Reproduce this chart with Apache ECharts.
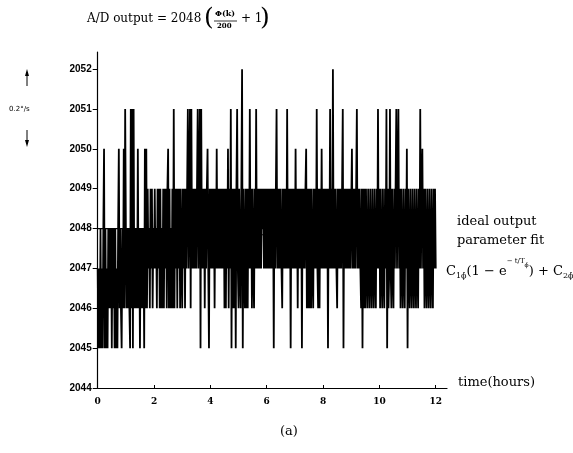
<!DOCTYPE html>
<html>
<head>
<meta charset="utf-8">
<script src="https://cdn.jsdelivr.net/npm/echarts@6/dist/echarts.min.js"></script>
<style>html,body{margin:0;padding:0;background:#fff;}#c{width:573px;height:453px;}</style>
</head>
<body>
<div id="c"></div>
<script>
// A/D output samples, 40 samples per hour (1.5 min spacing)
const hour0 = [2047,2045,2047,2045,2048,2045,2047,2045,2048,2050,2045,2048,2045,2047,2045,2048,2046,2048,2046,2048,2045,2048,2046,2048,2045,2048,2045,2047,2045,2048,2050,2046,2048,2046,2045,2048,2046,2050,2046,2051];
const hour1 = [2048,2046,2048,2046,2048,2046,2045,2051,2046,2051,2045,2051,2046,2048,2046,2048,2046,2050,2046,2048,2045,2048,2046,2048,2046,2048,2045,2050,2046,2050,2046,2049,2047,2048,2046,2049,2047,2049,2046,2048];
const hour2 = [2047,2049,2047,2048,2046,2049,2047,2049,2046,2049,2046,2048,2046,2049,2046,2049,2047,2049,2046,2049,2050,2046,2049,2046,2048,2046,2049,2046,2051,2046,2049,2047,2049,2046,2049,2047,2049,2046,2049,2047];
const hour3 = [2046,2049,2047,2049,2046,2049,2047,2049,2051,2047,2049,2051,2046,2051,2047,2049,2047,2049,2047,2049,2047,2049,2051,2047,2049,2051,2045,2051,2047,2049,2047,2049,2046,2049,2047,2049,2050,2047,2045,2049];
const hour4 = [2047,2049,2047,2049,2047,2049,2046,2049,2047,2050,2047,2049,2047,2049,2047,2049,2047,2049,2047,2049,2046,2049,2046,2049,2047,2050,2046,2049,2047,2051,2045,2049,2046,2049,2046,2049,2045,2049,2051,2047];
const hour5 = [2046,2049,2047,2046,2049,2052,2045,2049,2047,2046,2049,2046,2049,2046,2049,2047,2051,2047,2049,2046,2049,2047,2046,2049,2047,2051,2047,2049,2047,2049,2047,2049,2047,2049,2048,2049,2047,2049,2047,2049];
const hour6 = [2047,2049,2047,2049,2047,2049,2047,2049,2047,2049,2045,2049,2047,2049,2051,2047,2049,2047,2049,2047,2049,2047,2046,2049,2047,2049,2047,2049,2047,2051,2047,2049,2047,2049,2045,2049,2047,2049,2047,2049];
const hour7 = [2047,2050,2047,2049,2046,2049,2047,2049,2047,2049,2045,2049,2047,2049,2047,2049,2050,2046,2049,2046,2049,2046,2049,2046,2049,2047,2046,2049,2047,2049,2047,2051,2047,2046,2049,2046,2049,2047,2050,2047];
const hour8 = [2049,2047,2049,2047,2049,2047,2049,2045,2049,2047,2051,2047,2049,2047,2052,2047,2049,2047,2049,2047,2046,2049,2047,2049,2047,2049,2047,2049,2051,2045,2049,2047,2049,2047,2049,2047,2049,2047,2049,2047];
const hour9 = [2047,2050,2047,2049,2047,2049,2047,2049,2051,2047,2049,2047,2049,2047,2046,2049,2045,2049,2046,2049,2046,2049,2047,2046,2049,2047,2046,2049,2047,2046,2049,2047,2046,2049,2047,2046,2049,2047,2051,2047];
const hour10 = [2049,2046,2049,2047,2046,2049,2047,2046,2049,2047,2051,2045,2049,2046,2047,2051,2047,2046,2049,2047,2046,2049,2047,2049,2051,2047,2049,2051,2047,2049,2046,2049,2047,2046,2049,2047,2046,2049,2047,2050];
const hour11 = [2045,2049,2047,2046,2049,2047,2046,2049,2047,2046,2049,2047,2046,2049,2047,2046,2049,2047,2051,2047,2049,2050,2047,2049,2046,2049,2047,2046,2049,2047,2046,2049,2047,2046,2049,2047,2046,2049,2047,2049];
const lastSample = 2047;
const samplesPerHour = 40;

// ideal output and parameter fit
const idealTimes = [0, 12];
const idealValues = [2048, 2048];
const fitTimes = [0, 0.5, 1, 1.5, 2, 2.5, 3, 4, 5, 6, 7, 8, 9, 10, 11, 12];
const fitValues = [2046.0, 2046.45, 2046.8, 2047.07, 2047.28, 2047.43, 2047.55, 2047.71, 2047.8, 2047.85, 2047.88, 2047.89, 2047.9, 2047.9, 2047.9, 2047.9];

// axis ticks
const xTicks = [0, 2, 4, 6, 8, 10, 12];
const yTicks = [2044, 2045, 2046, 2047, 2048, 2049, 2050, 2051, 2052];

const hours = [hour0, hour1, hour2, hour3, hour4, hour5, hour6, hour7, hour8, hour9, hour10, hour11];
const signal = [];
hours.forEach((arr, h) => arr.forEach((v, j) => signal.push([h + j / samplesPerHour, v])));
signal.push([12, lastSample]);

const serif = 'DejaVu Serif';
const chart = echarts.init(document.getElementById('c'), null, {renderer: 'canvas'});
chart.setOption({
  backgroundColor: '#fff',
  animation: false,
  grid: {left: 97.7, right: 126, top: 52, bottom: 65, containLabel: false},
  xAxis: {
    type: 'value', min: 0, max: 12.4, interval: 2,
    axisLine: {lineStyle: {color: '#000', width: 1.2}},
    axisTick: {length: 3, inside: true, customValues: xTicks, lineStyle: {color: '#000'}},
    axisLabel: {customValues: xTicks, formatter: v => String(v), color: '#000', fontFamily: serif, fontWeight: 'bold', fontSize: 9, margin: 9},
    splitLine: {show: false}
  },
  yAxis: {
    type: 'value', min: 2044, max: 2052.43, interval: 1,
    axisLine: {show: true, lineStyle: {color: '#000', width: 1.2}},
    axisTick: {show: true, length: 5, customValues: yTicks, lineStyle: {color: '#000'}},
    axisLabel: {customValues: yTicks, formatter: v => String(v), color: '#000', fontFamily: 'Liberation Sans', fontWeight: 'bold', fontSize: 10, margin: 6},
    splitLine: {show: false}
  },
  series: [
    {type: 'line', data: signal, showSymbol: false, symbol: 'none', sampling: false,
     lineStyle: {color: '#000', width: 1.8}, z: 2},
    {type: 'line', data: idealTimes.map((t, i) => [t, idealValues[i]]), showSymbol: false, symbol: 'none',
     lineStyle: {color: '#000', width: 1.3}, z: 3},
    {type: 'line', data: fitTimes.map((t, i) => [t, fitValues[i]]), smooth: true, showSymbol: false, symbol: 'none',
     lineStyle: {color: '#000', width: 1}, z: 3}
  ],
  graphic: [
    {type: 'text', left: 87, top: 13, style: {text: 'A/D output = 2048', font: '12px "DejaVu Serif"', fill: '#000'}},
    {type: 'text', left: 204, top: 6, style: {text: '(', font: '25px "DejaVu Serif"', fill: '#000'}},
    {type: 'text', left: 215, top: 10, style: {text: 'Φ(k)', font: 'bold 8px "DejaVu Serif"', fill: '#000'}},
    {type: 'line', shape: {x1: 214, y1: 21, x2: 237, y2: 21}, style: {stroke: '#000', lineWidth: 0.8}},
    {type: 'text', left: 217, top: 23, style: {text: '200', font: 'bold 7px "DejaVu Serif"', fill: '#000'}},
    {type: 'text', left: 241, top: 13, style: {text: '+ 1', font: '12px "DejaVu Serif"', fill: '#000'}},
    {type: 'text', left: 260, top: 6, style: {text: ')', font: '25px "DejaVu Serif"', fill: '#000'}},
    // left rate scale annotation
    {type: 'line', shape: {x1: 27, y1: 86, x2: 27, y2: 72}, style: {stroke: '#000', lineWidth: 1}},
    {type: 'polygon', shape: {points: [[27, 69], [25, 76], [29, 76]]}, style: {fill: '#000'}},
    {type: 'text', left: 9, top: 106, style: {text: '0.2°/s', font: '7px "DejaVu Sans"', fill: '#000'}},
    {type: 'line', shape: {x1: 27, y1: 130, x2: 27, y2: 144}, style: {stroke: '#000', lineWidth: 1}},
    {type: 'polygon', shape: {points: [[27, 147], [25, 140], [29, 140]]}, style: {fill: '#000'}},
    // right labels
    {type: 'text', left: 457, top: 215, style: {text: 'ideal output', font: '13px "DejaVu Serif"', fill: '#000'}},
    {type: 'text', left: 457, top: 234, style: {text: 'parameter fit', font: '13px "DejaVu Serif"', fill: '#000'}},
    {type: 'text', left: 446, top: 258, style: {
      text: '{n|C}{s|1ϕ̇}{n|(1 − e}{p|− t/T}{s2|ϕ̇}{n|) + C}{s|2ϕ̇}',
      rich: {
        n: {font: '13px "DejaVu Serif"', fill: '#000', verticalAlign: 'bottom', lineHeight: 20},
        s: {font: '8px "DejaVu Serif"', fill: '#000', verticalAlign: 'bottom', lineHeight: 20, padding: [0, 0, -2, 0]},
        p: {font: '7px "DejaVu Serif"', fill: '#000', verticalAlign: 'top', lineHeight: 20},
        s2: {font: '6px "DejaVu Serif"', fill: '#000', verticalAlign: 'top', lineHeight: 20, padding: [4, 0, 0, 0]}
      }
    }},
    {type: 'text', left: 458, top: 376, style: {text: 'time(hours)', font: '13px "DejaVu Serif"', fill: '#000'}},
    {type: 'text', left: 280, top: 425, style: {text: '(a)', font: '13px "DejaVu Serif"', fill: '#000'}}
  ]
});
</script>
</body>
</html>
